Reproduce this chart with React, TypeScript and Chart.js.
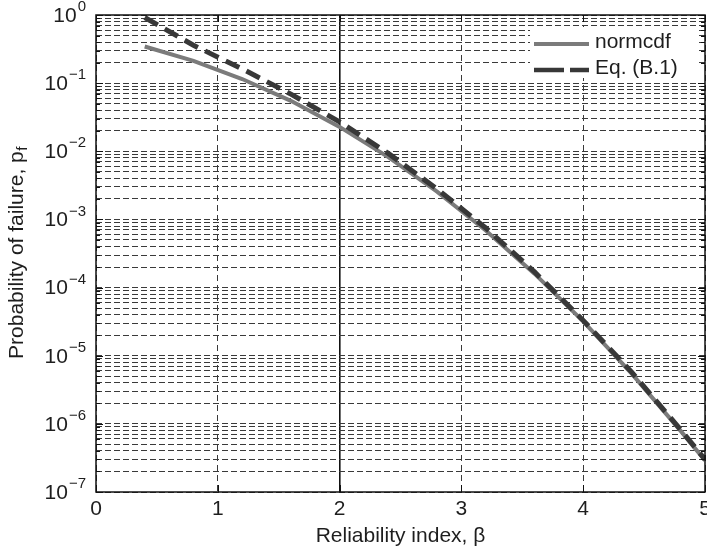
import React, { useEffect, useRef } from 'react';
import { Chart, registerables } from 'chart.js';

Chart.register(...registerables);

// Reliability index values (x)
const BETA = [0.4, 0.8, 1.2, 1.6, 2.0, 2.4, 2.8, 3.2, 3.6, 4.0, 4.4, 4.8, 5.0];
// Probability of failure
const PF_NORMCDF = [0.345, 0.212, 0.115, 0.055, 0.0228, 0.0082, 0.00256, 0.00069, 0.00016, 3.2e-5, 5.4e-6, 7.9e-7, 2.9e-7];
const PF_EQB1 = [0.92, 0.36, 0.162, 0.069, 0.027, 0.0093, 0.0028, 0.00075, 0.00017, 3.3e-5, 5.7e-6, 8.2e-7, 3.0e-7];

const SERIES_NAMES = ['normcdf', 'Eq. (B.1)'];
const X_TITLE = 'Reliability index, \u03b2';
const Y_TITLE = 'Probability of failure, p';
const Y_TITLE_SUB = 'f';
const Y_EXPONENTS = [0, -1, -2, -3, -4, -5, -6, -7];
const Y_MINOR_MULT = [1, 2, 3, 4, 5, 6, 7, 8, 9];

const FONT = '"Liberation Sans", Arial, Helvetica, sans-serif';
const TEXT = '#1e1e1e';
const GRAY_LINE = '#7b7b7b';
const DARK_LINE = '#383838';
const GRID = '#3a3a3a';

const yTickValues: number[] = [];
for (const e of Y_EXPONENTS.slice(1)) {
  for (const m of Y_MINOR_MULT) yTickValues.push(m * Math.pow(10, e));
}
yTickValues.push(1);

const decorPlugin = {
  id: 'decor',
  afterDatasetsDraw(chart: any) {
    const { ctx, chartArea: a, scales } = chart;
    const x = scales.x;
    const y = scales.y;
    ctx.save();
    ctx.setLineDash([]);

    // legend (white box over grid)
    const lx0 = 530, ly0 = 27, lw = 168, lh = 51;
    ctx.fillStyle = '#ffffff';
    ctx.fillRect(lx0, ly0, lw, lh);
    ctx.lineCap = 'butt';
    ctx.strokeStyle = GRAY_LINE;
    ctx.lineWidth = 4;
    ctx.beginPath();
    ctx.moveTo(534, 44);
    ctx.lineTo(589, 44);
    ctx.stroke();
    ctx.strokeStyle = DARK_LINE;
    ctx.lineWidth = 4.5;
    ctx.setLineDash([30, 6]);
    ctx.beginPath();
    ctx.moveTo(534, 70);
    ctx.lineTo(589, 70);
    ctx.stroke();
    ctx.setLineDash([]);
    ctx.fillStyle = TEXT;
    ctx.font = `21px ${FONT}`;
    ctx.textAlign = 'left';
    ctx.textBaseline = 'middle';
    ctx.fillText(SERIES_NAMES[0], 595, 42);
    ctx.fillText(SERIES_NAMES[1], 595, 68);

    // frame
    ctx.strokeStyle = '#111';
    ctx.lineWidth = 1.5;
    ctx.strokeRect(a.left, a.top, a.right - a.left, a.bottom - a.top);

    // inward tick marks
    ctx.lineWidth = 1;
    ctx.beginPath();
    for (const v of yTickValues) {
      const py = Math.round(y.getPixelForValue(v)) + 0.5;
      const len = Y_EXPONENTS.some((e) => Math.abs(Math.pow(10, e) - v) < 1e-12) ? 7 : 4;
      ctx.moveTo(a.left, py);
      ctx.lineTo(a.left + len, py);
      ctx.moveTo(a.right, py);
      ctx.lineTo(a.right - len, py);
    }
    for (const t of x.ticks) {
      const px = Math.round(x.getPixelForValue(t.value)) + 0.5;
      ctx.moveTo(px, a.bottom);
      ctx.lineTo(px, a.bottom - 7);
      ctx.moveTo(px, a.top);
      ctx.lineTo(px, a.top + 7);
    }
    ctx.stroke();

    // y tick labels 10^e
    ctx.fillStyle = TEXT;
    const rightEdge = 86;
    for (const e of Y_EXPONENTS) {
      const py = y.getPixelForValue(Math.pow(10, e));
      const sup = e === 0 ? '0' : '\u2212' + Math.abs(e);
      ctx.font = `15px ${FONT}`;
      const sw = ctx.measureText(sup).width;
      ctx.font = `21px ${FONT}`;
      ctx.textAlign = 'right';
      ctx.textBaseline = 'middle';
      ctx.fillText('10', rightEdge - sw - 1, py + 1);
      ctx.font = `15px ${FONT}`;
      ctx.textAlign = 'left';
      ctx.fillText(sup, rightEdge - sw, py - 8);
    }

    // y title with subscript
    ctx.save();
    ctx.translate(17, 253);
    ctx.rotate(-Math.PI / 2);
    ctx.font = `21px ${FONT}`;
    const mw = ctx.measureText(Y_TITLE).width;
    ctx.font = `15px ${FONT}`;
    const sw2 = ctx.measureText(Y_TITLE_SUB).width;
    const total = mw + sw2;
    ctx.textAlign = 'left';
    ctx.textBaseline = 'middle';
    ctx.font = `21px ${FONT}`;
    ctx.fillText(Y_TITLE, -total / 2, 0);
    ctx.font = `15px ${FONT}`;
    ctx.fillText(Y_TITLE_SUB, -total / 2 + mw + 0.5, 6);
    ctx.restore();

    ctx.restore();
  },
};

export default function App() {
  const ref = useRef<HTMLCanvasElement | null>(null);
  useEffect(() => {
    if (!ref.current) return;
    const chart = new Chart(ref.current, {
      type: 'line',
      data: {
        datasets: [
          {
            label: SERIES_NAMES[0],
            data: BETA.map((b, i) => ({ x: b, y: PF_NORMCDF[i] })),
            borderColor: GRAY_LINE,
            borderWidth: 4,
            pointRadius: 0,
            tension: 0,
            order: 2,
            borderCapStyle: 'butt',
          },
          {
            label: SERIES_NAMES[1],
            data: BETA.map((b, i) => ({ x: b, y: PF_EQB1[i] })),
            borderColor: DARK_LINE,
            borderWidth: 5,
            borderDash: [15, 8],
            pointRadius: 0,
            tension: 0,
            order: 1,
            borderCapStyle: 'butt',
          },
        ],
      },
      options: {
        animation: false,
        responsive: true,
        maintainAspectRatio: false,
        layout: { autoPadding: false, padding: { left: 0, right: 2, top: 15, bottom: 0 } },
        plugins: {
          legend: { display: false },
          tooltip: { enabled: false },
        },
        scales: {
          x: {
            type: 'linear',
            min: 0,
            max: 5,
            afterFit: (s: any) => {
              s.height = 62;
              s.paddingLeft = 0;
              s.paddingRight = 0;
            },
            ticks: {
              stepSize: 1,
              padding: 5,
              color: TEXT,
              font: { family: FONT, size: 21 },
              maxRotation: 0,
            },
            grid: {
              drawTicks: false,
              color: (c: any) => (c.tick && c.tick.value === 2 ? '#111' : GRID),
              lineWidth: (c: any) => (c.tick && c.tick.value === 2 ? 1.6 : 1),
            },
            border: {
              display: false,
              dash: (c: any) => (c.tick && c.tick.value === 2 ? [] : [6, 4]),
            },
            title: {
              display: true,
              text: X_TITLE,
              color: TEXT,
              font: { family: FONT, size: 21 },
              padding: { top: 0, bottom: 5 },
            },
          },
          y: {
            type: 'logarithmic',
            min: 1e-7,
            max: 1,
            afterBuildTicks: (s: any) => {
              s.ticks = yTickValues.map((v) => ({ value: v }));
            },
            afterFit: (s: any) => {
              s.width = 96;
              s.paddingTop = 0;
              s.paddingBottom = 0;
            },
            ticks: { display: false },
            grid: {
              drawTicks: false,
              color: GRID,
              lineWidth: 1,
            },
            border: { display: false, dash: [6, 3] },
          },
        },
      },
      plugins: [decorPlugin],
    } as any);
    return () => chart.destroy();
  }, []);

  return (
    <div style={{ position: 'fixed', left: 0, top: 0, width: 707, height: 554, background: '#fff' }}>
      <canvas ref={ref} />
    </div>
  );
}
